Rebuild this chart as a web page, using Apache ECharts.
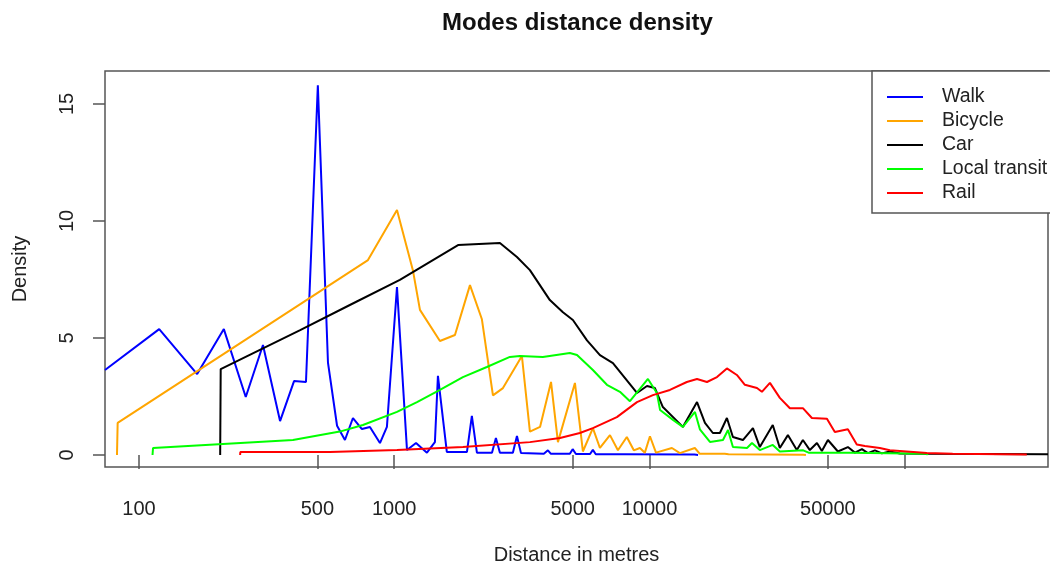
<!DOCTYPE html>
<html>
<head>
<meta charset="utf-8">
<script src="https://cdn.jsdelivr.net/npm/echarts@6/dist/echarts.min.js"></script>
<style>
html,body{margin:0;padding:0;background:#fff;}
#chart{width:1050px;height:564px;}
</style>
</head>
<body>
<div id="chart"></div>
<script>
// ---- data (distance in metres, density) ----
var seriesNames = ['Walk', 'Bicycle', 'Car', 'Local transit', 'Rail'];
var xTickLabels = [100, 500, 1000, 5000, 10000, 50000];
var xTickMarks = [100, 500, 1000, 5000, 10000, 50000, 100000];
var yTicks = [0, 5, 10, 15];

var walk = [[73.6,3.63],[120,5.38],[169,3.46],[215,5.38],[262,2.48],[306,4.7],[357,1.45],[405,3.16],[451,3.12],[502,15.8],[550,3.95],[597,1.25],[641,0.64],[689,1.58],[747,1.11],[803,1.2],[879,0.51],[936,1.2],[1025,7.18],[1122,0.21],[1217,0.51],[1343,0.1],[1443,0.55],[1483,3.38],[1607,0.13],[1927,0.13],[2014,1.67],[2108,0.1],[2415,0.1],[2502,0.73],[2594,0.1],[2916,0.1],[3025,0.81],[3137,0.08],[3855,0.05],[4000,0.2],[4110,0.05],[4875,0.05],[5000,0.25],[5150,0.04],[5850,0.04],[6000,0.22],[6160,0.03],[8000,0.03],[15000,0.02],[15500,0]];

var bicycle = [[82,0],[82.5,1.37],[789,8.33],[1025,10.47],[1183,7.9],[1261,6.2],[1510,4.87],[1729,5.13],[1980,7.26],[2205,5.8],[2436,2.55],[2666,2.86],[3163,4.23],[3400,1.0],[3725,1.2],[4113,3.12],[4378,0.55],[5103,3.08],[5483,0.15],[6000,1.15],[6395,0.3],[7000,0.85],[7520,0.2],[8150,0.77],[8680,0.2],[9170,0.3],[9590,0.1],[10040,0.8],[10600,0.1],[12240,0.3],[13150,0.08],[15050,0.3],[15750,0.05],[19720,0.05],[20000,0.12],[20400,0.03],[40000,0.01],[41000,0]];

var car = [[208,0],[209,3.67],[428,5.34],[670,6.41],[1052,7.48],[1778,8.97],[2594,9.06],[3025,8.46],[3400,7.9],[4070,6.62],[4580,6.1],[5010,5.77],[5690,4.9],[6395,4.27],[7190,3.93],[8930,2.65],[9775,2.95],[10500,2.86],[11280,2.05],[13510,1.2],[15350,2.26],[16490,1.37],[17710,0.94],[18870,0.94],[20100,1.58],[21220,0.77],[23220,0.64],[25420,1.15],[27050,0.34],[30400,1.28],[32400,0.3],[34840,0.85],[37770,0.21],[39890,0.64],[42480,0.21],[45280,0.51],[47340,0.17],[50000,0.64],[54700,0.15],[59850,0.34],[63800,0.1],[67950,0.25],[71700,0.08],[76400,0.2],[81300,0.07],[87400,0.15],[95700,0.06],[122000,0.05],[364000,0.03]];

var localTransit = [[113,0],[113.5,0.3],[401,0.64],[612,1.0],[754,1.28],[1025,1.84],[1228,2.26],[1510,2.78],[1858,3.33],[2306,3.76],[2838,4.19],[3105,4.23],[3820,4.19],[4875,4.36],[5200,4.27],[6000,3.63],[6810,3.0],[7660,2.7],[8380,2.3],[9860,3.25],[10690,2.65],[11000,1.92],[12360,1.5],[13510,1.2],[15070,1.84],[15750,1.1],[17250,0.56],[19400,0.64],[20300,1.07],[21220,0.34],[24100,0.3],[25200,0.51],[27050,0.21],[30400,0.43],[32400,0.15],[40000,0.2],[42000,0.1],[61000,0.1],[122000,0.05],[123000,0]];

var rail = [[249,0],[249.5,0.13],[560,0.13],[1025,0.21],[1858,0.34],[3400,0.55],[4460,0.73],[5335,0.94],[6000,1.15],[7450,1.62],[8930,2.26],[10310,2.56],[12020,2.78],[14000,3.12],[15350,3.25],[16790,3.12],[18380,3.33],[20100,3.7],[21990,3.42],[23640,3.0],[26360,2.86],[27560,2.7],[29630,3.08],[32400,2.44],[35480,2.0],[39890,2.0],[43260,1.58],[49550,1.55],[53210,0.98],[59850,1.1],[64880,0.45],[69770,0.38],[79850,0.3],[87400,0.2],[122000,0.09],[154000,0.05],[300600,0.02]];

var seriesData = [walk, bicycle, car, localTransit, rail];
var colors = ['#0000ff', '#ffa500', '#000000', '#00ff00', '#ff0000'];

var FONT = 'Liberation Sans, Arial, Helvetica, sans-serif';

var chart = echarts.init(document.getElementById('chart'), null, {renderer: 'canvas'});
chart.setOption({
  animation: false,
  backgroundColor: '#ffffff',
  title: {
    text: 'Modes distance density',
    left: 442, top: 11, padding: 0,
    textStyle: {fontFamily: FONT, fontSize: 24, fontWeight: 'bold', color: '#111'}
  },
  grid: {
    left: 105, right: 2, top: 71, bottom: 97,
    show: true, borderColor: '#555', borderWidth: 1.5, backgroundColor: '#fff',
    containLabel: false,
    outerBoundsMode: 'none'
  },
  legend: {
    orient: 'vertical',
    left: 872, top: 71,
    padding: [14, 30, 8, 15],
    itemGap: 0,
    itemWidth: 36, itemHeight: 2,
    icon: 'rect',
    backgroundColor: '#fff',
    borderColor: '#555', borderWidth: 1.5,
    textStyle: {fontFamily: FONT, fontSize: 19.5, color: '#222', lineHeight: 24, padding: [0, 0, 0, 14]},
    data: seriesNames
  },
  xAxis: {
    type: 'log', logBase: 10,
    min: 73.6, max: 364000,
    name: 'Distance in metres', nameLocation: 'middle', nameGap: 78,
    nameTextStyle: {fontFamily: FONT, fontSize: 20, color: '#222'},
    axisLine: {show: false},
    axisTick: {show: true, length: 14, inside: false, customValues: xTickMarks, lineStyle: {color: '#555', width: 1.5}},
    axisLabel: {
      customValues: xTickLabels, margin: 32, fontFamily: FONT, fontSize: 20, color: '#222',
      formatter: function (v) { return String(Math.round(v)); }
    },
    splitLine: {show: false}, minorTick: {show: false}
  },
  yAxis: {
    type: 'value',
    min: -0.513, max: 16.41,
    name: 'Density', nameLocation: 'middle', nameGap: 75, nameRotate: 90,
    nameTextStyle: {fontFamily: FONT, fontSize: 20, color: '#222'},
    axisLine: {show: false},
    axisTick: {show: true, length: 12, inside: false, customValues: yTicks, lineStyle: {color: '#555', width: 1.5}},
    axisLabel: {customValues: yTicks, rotate: 90, margin: 28, fontFamily: FONT, fontSize: 20, color: '#222'},
    splitLine: {show: false}
  },
  series: seriesNames.map(function (n, i) {
    return {
      name: n, type: 'line', data: seriesData[i],
      showSymbol: false, symbol: 'none', smooth: false, clip: true,
      color: colors[i],
      lineStyle: {color: colors[i], width: 2},
      z: 2 + i
    };
  })
});
</script>
</body>
</html>
